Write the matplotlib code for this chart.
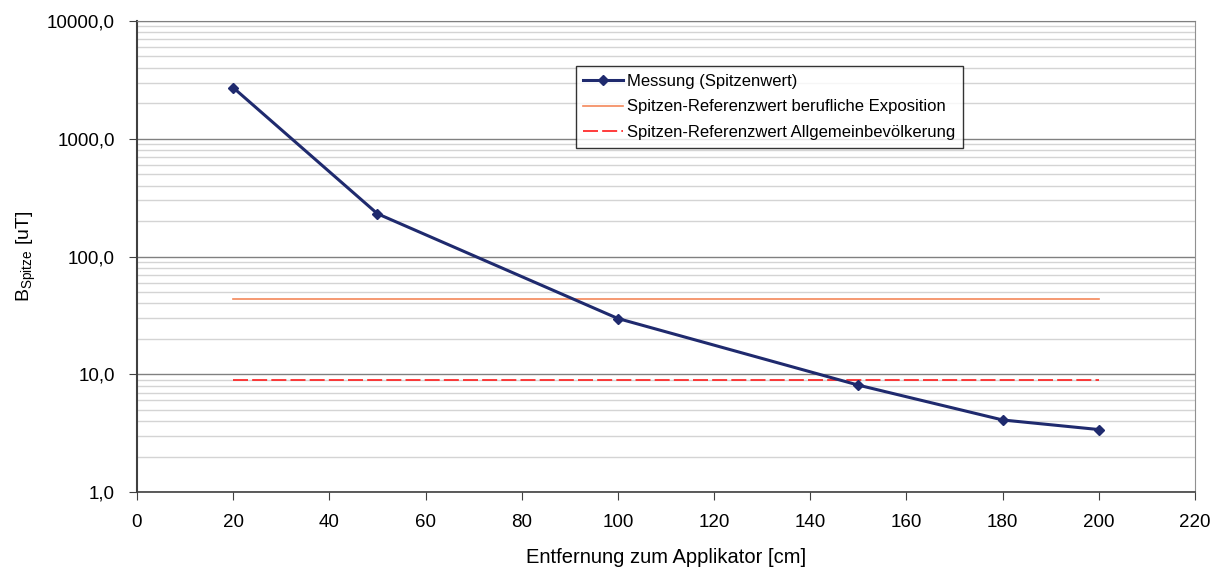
import matplotlib
matplotlib.use("Agg")
import matplotlib.pyplot as plt
from matplotlib.ticker import FixedLocator, FuncFormatter, LogLocator, NullFormatter

plt.rcParams["font.family"] = ["Liberation Sans", "DejaVu Sans"]
plt.rcParams["mathtext.fontset"] = "custom"
plt.rcParams["mathtext.rm"] = "Liberation Sans"

# measured peak values
entfernung = [20, 50, 100, 150, 180, 200]
messung = [2720, 231, 29.8, 8.1, 4.1, 3.4]

# reference values
ref_x = [20, 200]
ref_beruflich = [44, 44]
ref_allgemein = [9, 9]

x_ticks = list(range(0, 221, 20))
y_ticks = [1, 10, 100, 1000, 10000]

fig = plt.figure(figsize=(12.12, 5.67), dpi=100)
ax = fig.add_axes([0.113, 0.132, 0.873, 0.831])

ax.set_yscale("log")
ax.set_xlim(0, 220)
ax.set_ylim(1, 10000)

ax.yaxis.set_major_locator(FixedLocator(y_ticks))
ax.yaxis.set_major_formatter(FuncFormatter(lambda v, p: f"{v:.1f}".replace(".", ",")))
ax.yaxis.set_minor_locator(LogLocator(base=10, subs=range(2, 10)))
ax.yaxis.set_minor_formatter(NullFormatter())
ax.xaxis.set_major_locator(FixedLocator(x_ticks))

ax.grid(True, which="minor", axis="y", color="#d4d4d4", linewidth=1)
ax.grid(True, which="major", axis="y", color="#808080", linewidth=1)
ax.set_axisbelow(True)

ax.plot(entfernung, messung, color="#1f2a6e", linewidth=2.2, marker="D",
        markersize=5, label="Messung (Spitzenwert)", zorder=5)
ax.plot(ref_x, ref_beruflich, color="#f4875a", linewidth=1.2,
        label="Spitzen-Referenzwert berufliche Exposition", zorder=4)
ax.plot(ref_x, ref_allgemein, color="#ff1a1a", linewidth=1.2, dashes=(9, 2.5),
        label="Spitzen-Referenzwert Allgemeinbevölkerung", zorder=4)

ax.tick_params(axis="both", which="major", direction="out", length=6,
               labelsize=13.5, color="#404040")
ax.tick_params(axis="y", which="minor", length=0)
ax.tick_params(axis="y", pad=10)
ax.tick_params(axis="x", pad=10)

ax.spines["left"].set_color("#404040")
ax.spines["left"].set_linewidth(1.5)
ax.spines["bottom"].set_color("#404040")
ax.spines["bottom"].set_linewidth(1.2)
ax.spines["right"].set_color("#909090")
ax.spines["top"].set_color("#808080")

ax.set_xlabel("Entfernung zum Applikator [cm]", fontsize=14.5, labelpad=12)
ax.set_ylabel(r"B$_{\mathrm{Spitze}}$ [uT]", fontsize=14, labelpad=6)

leg = ax.legend(loc="upper left", bbox_to_anchor=(0.407, 0.922), fontsize=12,
                frameon=True, fancybox=False, edgecolor="black",
                handlelength=2.4, handletextpad=0.2, borderpad=0.45,
                labelspacing=0.65)
leg.get_frame().set_linewidth(1.0)

fig.savefig("out.png", dpi=100)
